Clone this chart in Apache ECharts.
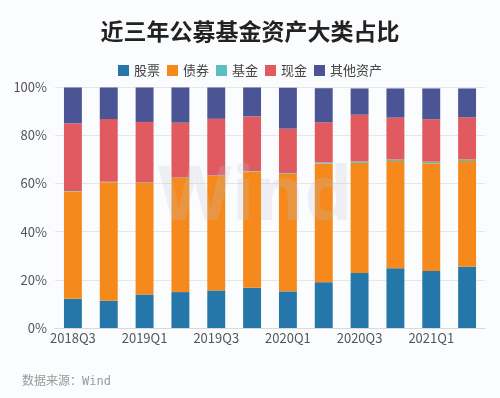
<!DOCTYPE html>
<html>
<head>
<meta charset="utf-8">
<script src="https://cdn.jsdelivr.net/npm/echarts@6/dist/echarts.min.js"></script>
<style>
  html, body { margin: 0; padding: 0; background: #fbfcfe; }
  #chart { width: 500px; height: 398px; }
</style>
</head>
<body>
<div id="chart"></div>
<script>
  // 季度
  const quarters = ['2018Q3', '2018Q4', '2019Q1', '2019Q2', '2019Q3', '2019Q4',
    '2020Q1', '2020Q2', '2020Q3', '2020Q4', '2021Q1', '2021Q2'];
  // 各类资产占比(%)
  const stock = [12.1, 11.3, 13.9, 14.9, 15.6, 16.7, 15.2, 19.0, 22.8, 24.8, 23.6, 25.4];
  const bond = [44.5, 49.2, 46.3, 47.4, 47.5, 48.2, 48.8, 49.2, 45.7, 44.5, 44.8, 43.9];
  const fund = [0.2, 0.2, 0.2, 0.2, 0.2, 0.2, 0.3, 0.5, 0.6, 0.6, 0.6, 0.6];
  const cash = [28.1, 26.0, 25.1, 22.7, 23.5, 22.7, 18.4, 16.6, 19.4, 17.4, 17.6, 17.5];
  const other = [14.9, 13.1, 14.3, 14.6, 13.0, 12.0, 17.0, 14.2, 10.9, 12.1, 12.8, 12.0];
  const yTicks = [0, 20, 40, 60, 80, 100];

  const font = '"Noto Sans CJK SC", "Noto Sans", sans-serif';
  const myChart = echarts.init(document.getElementById('chart'));

  function bar(name, data, color) {
    return {
      name: name,
      type: 'bar',
      stack: 'total',
      barWidth: '50%',
      itemStyle: { color: color },
      data: data
    };
  }

  const option = {
    backgroundColor: '#fbfcfe',
    textStyle: { fontFamily: font },
    title: {
      text: '近三年公募基金资产大类占比',
      left: 'center',
      top: 15,
      textStyle: { fontSize: 23, fontWeight: 'bold', color: '#222', fontFamily: font }
    },
    legend: {
      top: 59,
      left: 'center',
      itemWidth: 11,
      itemHeight: 11,
      itemGap: 7,
      icon: 'rect',
      textStyle: { fontSize: 13, color: '#444', fontFamily: font },
      data: ['股票', '债券', '基金', '现金', '其他资产']
    },
    graphic: [
      {
        type: 'text',
        left: 158,
        top: 160,
        z: 100,
        style: { text: 'Wind', font: 'bold 76px "Open Sans", sans-serif', fill: 'rgba(190,195,210,0.22)' }
      },
      {
        type: 'text',
        left: 22,
        top: 376,
        style: { text: '数据来源：Wind', font: '12px "DejaVu Sans Mono", "Noto Sans CJK SC", monospace', fill: '#999' }
      }
    ],
    grid: { left: 55, right: 15, top: 87, bottom: 70 },
    xAxis: {
      type: 'category',
      data: quarters,
      axisLine: { lineStyle: { color: '#d9d9d9' } },
      axisTick: { show: false },
      axisLabel: { interval: 1, color: '#555', fontSize: 13, margin: 4, fontFamily: font }
    },
    yAxis: {
      type: 'value',
      min: yTicks[0],
      max: yTicks[yTicks.length - 1],
      interval: 20,
      axisLine: { show: false },
      axisTick: { show: false },
      axisLabel: { color: '#555', fontSize: 13, margin: 8, formatter: '{value}%', fontFamily: font },
      splitLine: { lineStyle: { color: '#e6e6e6' } }
    },
    series: [
      bar('股票', stock, '#2477a8'),
      bar('债券', bond, '#f5891c'),
      bar('基金', fund, '#5bbfbf'),
      bar('现金', cash, '#e05a5f'),
      bar('其他资产', other, '#4b5494')
    ]
  };

  myChart.setOption(option);
</script>
</body>
</html>
